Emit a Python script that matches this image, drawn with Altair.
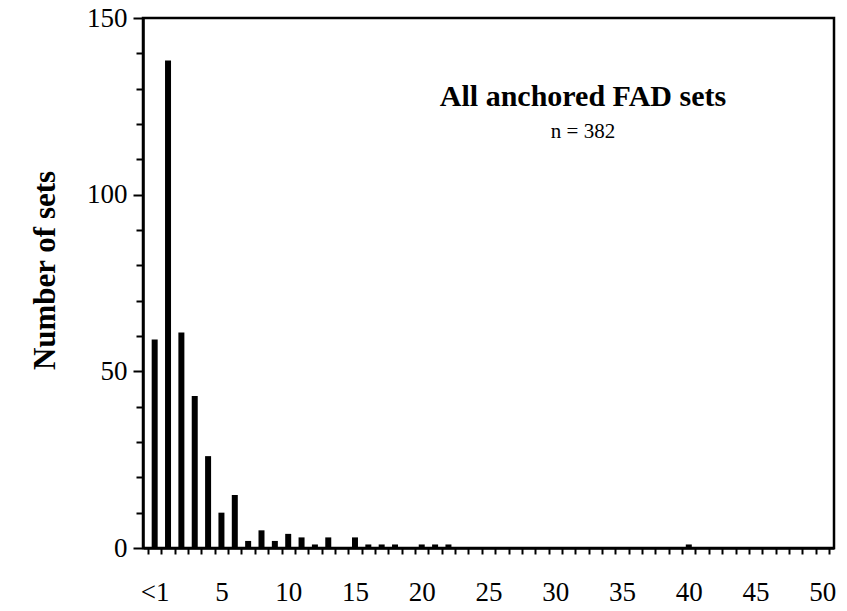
import altair as alt
import pandas as pd

# Soak-time classes: "<1" then 1..50
bin_pos = list(range(0, 51))
bin_counts = [
    59, 138, 61, 43, 26, 10, 15, 2, 5, 2,
    4, 3, 1, 3, 0, 3, 1, 1, 1, 0,
    1, 1, 1, 0, 0, 0, 0, 0, 0, 0,
    0, 0, 0, 0, 0, 0, 0, 0, 0, 0,
    1, 0, 0, 0, 0, 0, 0, 0, 0, 0,
    0,
]
panel_title = "All anchored FAD sets"
panel_sub = "n = 382"

df = pd.DataFrame({"pos": bin_pos, "count": bin_counts})

SERIF = "Liberation Serif"

# x ticks fall between classes, labels every 5 classes
half_ticks = [i + 0.5 for i in range(-1, 51)]
x_values = sorted(set(half_ticks + list(range(0, 51, 5))))
y_values = list(range(0, 151, 10))

x_axis = alt.Axis(
    values=x_values,
    labelExpr="datum.value == 0 ? '<1' : (datum.value % 5 == 0 ? format(datum.value, 'd') : '')",
    labelOverlap=False,
    labelFlush=False,
    labelBound=False,
    tickOpacity=alt.ConditionalAxisNumber(
        condition={"test": "datum.value % 1 != 0", "value": 1}, value=0
    ),
    tickSize=6,
    tickWidth=2,
    tickColor="black",
    labelFont=SERIF,
    labelFontSize=27,
    labelColor="black",
    labelPadding=25,
    grid=False,
    domainColor="black",
    domainWidth=2.5,
    title=None,
)

y_axis = alt.Axis(
    values=y_values,
    labelExpr="datum.value % 50 == 0 ? format(datum.value, 'd') : ''",
    labelOverlap=False,
    labelFlush=False,
    tickSize=alt.ConditionalAxisNumber(
        condition={"test": "datum.value % 50 == 0", "value": 10}, value=7
    ),
    tickWidth=2,
    tickColor="black",
    labelFont=SERIF,
    labelFontSize=27,
    labelColor="black",
    labelPadding=6,
    grid=False,
    domainColor="black",
    domainWidth=2.5,
    title="Number of sets",
    titleFont=SERIF,
    titleFontSize=31,
    titleFontWeight="bold",
    titleColor="black",
    titleX=-98,
    titleY=252,
    titleAngle=-90,
    titleAlign="center",
    titleBaseline="middle",
)

bars = alt.Chart(df).mark_bar(color="black", width=6).encode(
    x=alt.X("pos:Q", scale=alt.Scale(domain=[-0.5, 50.5], nice=False, zero=False), axis=x_axis),
    y=alt.Y("count:Q", scale=alt.Scale(domain=[0, 150], nice=False), axis=y_axis),
)

head = alt.Chart(pd.DataFrame({"t": [panel_title]})).mark_text(
    font=SERIF, fontSize=30, fontWeight="bold", color="black",
    align="center", baseline="alphabetic",
).encode(text="t:N", x=alt.value(440), y=alt.value(88))

sub = alt.Chart(pd.DataFrame({"t": [panel_sub]})).mark_text(
    font=SERIF, fontSize=21, color="black",
    align="center", baseline="alphabetic",
).encode(text="t:N", x=alt.value(440), y=alt.value(120))

chart = (
    alt.layer(bars, head, sub)
    .properties(
        width=691,
        height=530,
        autosize=alt.AutoSizeParams(type="none"),
        padding={"left": 143, "top": 18, "right": 13, "bottom": 63},
        background="white",
    )
    .configure_view(stroke="black", strokeWidth=2.5)
)

chart.save("out.html", embed_options={"renderer": "svg", "actions": False})
